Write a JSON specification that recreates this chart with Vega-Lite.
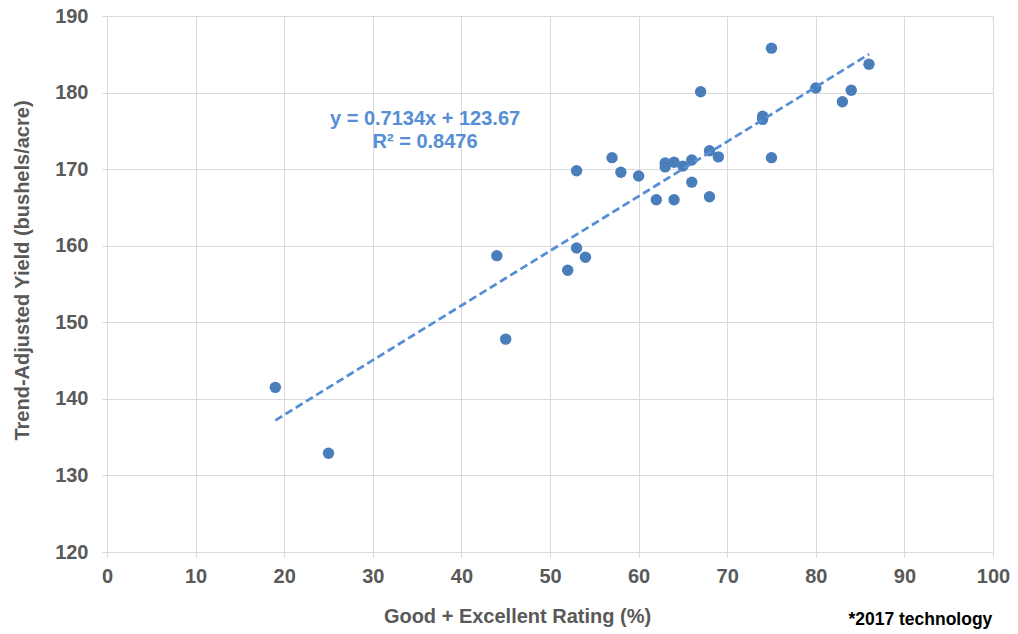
{
  "$schema": "https://vega.github.io/schema/vega-lite/v6.json",
  "autosize": "none",
  "width": 886,
  "height": 536,
  "padding": {"left": 107, "top": 16, "right": 25, "bottom": 82},
  "background": "white",
  "config": {
    "font": "Liberation Sans",
    "view": {"stroke": null},
    "axis": {
      "labelFont": "Liberation Sans",
      "labelFontWeight": "bold",
      "labelColor": "#595959",
      "labelFontSize": 20,
      "labelFlush": false,
      "labelOverlap": false,
      "titleFont": "Liberation Sans",
      "titleFontWeight": "bold",
      "titleColor": "#595959",
      "titleFontSize": 20,
      "gridColor": "#d9d9d9",
      "gridWidth": 1
    }
  },
  "datasets": {
    "pts": [
      {"rating": 19, "yield": 141.5},
      {"rating": 25, "yield": 132.9},
      {"rating": 44, "yield": 158.7},
      {"rating": 45, "yield": 147.8},
      {"rating": 52, "yield": 156.8},
      {"rating": 53, "yield": 159.7},
      {"rating": 53, "yield": 169.8},
      {"rating": 54, "yield": 158.5},
      {"rating": 57, "yield": 171.5},
      {"rating": 58, "yield": 169.6},
      {"rating": 60, "yield": 169.1},
      {"rating": 62, "yield": 166.0},
      {"rating": 63, "yield": 170.8},
      {"rating": 63, "yield": 170.3},
      {"rating": 64, "yield": 170.9},
      {"rating": 64, "yield": 166.0},
      {"rating": 65, "yield": 170.4},
      {"rating": 66, "yield": 171.2},
      {"rating": 66, "yield": 168.3},
      {"rating": 67, "yield": 180.1},
      {"rating": 68, "yield": 172.4},
      {"rating": 68, "yield": 166.4},
      {"rating": 69, "yield": 171.6},
      {"rating": 74, "yield": 176.9},
      {"rating": 74, "yield": 176.5},
      {"rating": 75, "yield": 185.8},
      {"rating": 75, "yield": 171.5},
      {"rating": 80, "yield": 180.6},
      {"rating": 83, "yield": 178.8},
      {"rating": 84, "yield": 180.3},
      {"rating": 86, "yield": 183.7}
    ],
    "labels": [
      {"rating": 35.9, "yield": 176.5, "text": "y = 0.7134x + 123.67"},
      {"rating": 35.9, "yield": 173.5, "text": "R² = 0.8476"}
    ],
    "note": [
      {"rating": 91.8, "yield": 111.1, "text": "*2017 technology"}
    ]
  },
  "layer": [
    {
      "data": {"name": "pts"},
      "mark": {"type": "point", "filled": true, "size": 130, "color": "#4a7ebb", "opacity": 1},
      "encoding": {
        "x": {
          "field": "rating", "type": "quantitative",
          "scale": {"domain": [0, 100], "nice": false, "zero": false},
          "axis": {
            "values": [0, 10, 20, 30, 40, 50, 60, 70, 80, 90, 100],
            "title": "Good + Excellent Rating (%)",
            "titleX": 410,
            "titlePadding": 20,
            "labelPadding": 9,
            "tickSize": 5,
            "tickColor": "#d9d9d9",
            "domainColor": "#d9d9d9",
            "grid": true
          }
        },
        "y": {
          "field": "yield", "type": "quantitative",
          "scale": {"domain": [120, 190], "nice": false, "zero": false},
          "axis": {
            "values": [120, 130, 140, 150, 160, 170, 180, 190],
            "title": "Trend-Adjusted Yield (bushels/acre)",
            "titleY": 254,
            "titlePadding": 22,
            "labelPadding": 14,
            "tickSize": 5,
            "tickColor": "#d9d9d9",
            "domain": false,
            "grid": true
          }
        }
      }
    },
    {
      "data": {"name": "pts"},
      "transform": [{"regression": "yield", "on": "rating"}],
      "mark": {"type": "line", "color": "#558ed5", "strokeWidth": 2.75, "strokeDash": [8, 4]},
      "encoding": {
        "x": {"field": "rating", "type": "quantitative"},
        "y": {"field": "yield", "type": "quantitative"}
      }
    },
    {
      "data": {"name": "labels"},
      "mark": {"type": "text", "color": "#558ed5", "fontSize": 20, "fontWeight": "bold", "font": "Liberation Sans", "align": "center", "baseline": "middle"},
      "encoding": {
        "x": {"field": "rating", "type": "quantitative"},
        "y": {"field": "yield", "type": "quantitative"},
        "text": {"field": "text"}
      }
    },
    {
      "data": {"name": "note"},
      "mark": {"type": "text", "color": "#000000", "fontSize": 17.5, "fontWeight": "bold", "font": "Liberation Sans", "align": "center", "baseline": "middle", "clip": false},
      "encoding": {
        "x": {"field": "rating", "type": "quantitative"},
        "y": {"field": "yield", "type": "quantitative"},
        "text": {"field": "text"}
      }
    }
  ]
}
